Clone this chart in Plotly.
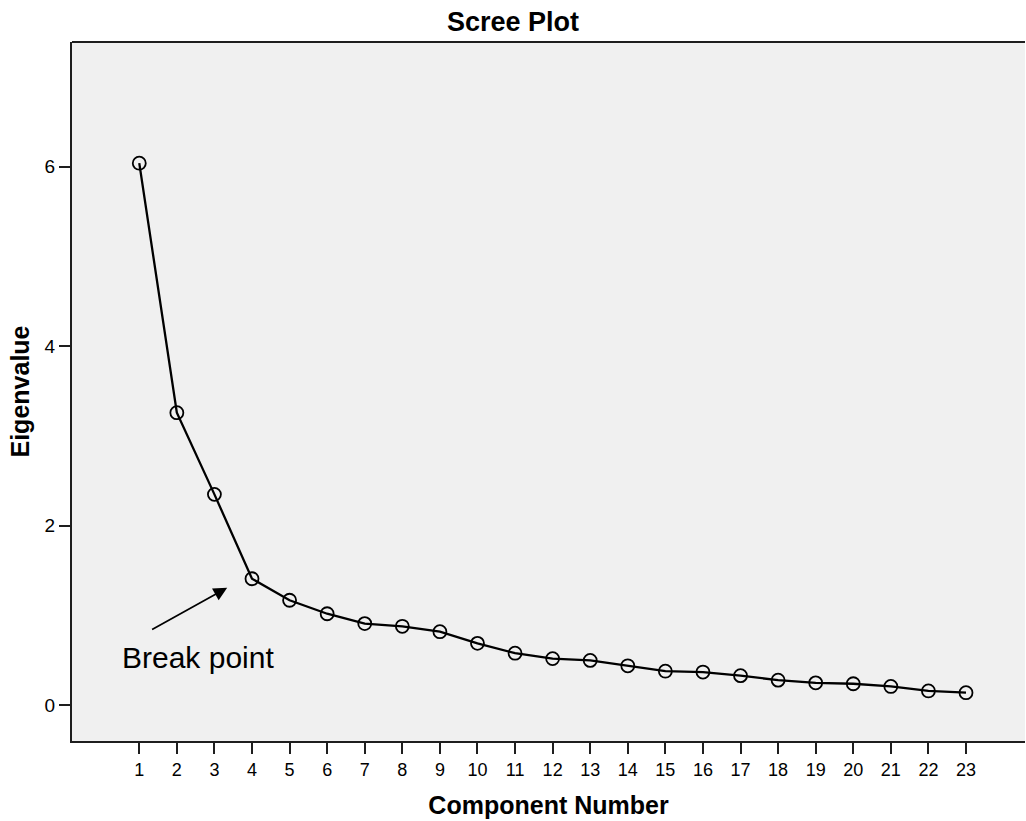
import plotly.graph_objects as go

components = list(range(1, 24))
eigenvalues = [6.04, 3.26, 2.35, 1.41, 1.17, 1.02, 0.91, 0.88, 0.82, 0.69,
               0.58, 0.52, 0.50, 0.44, 0.38, 0.37, 0.33, 0.28, 0.25, 0.24,
               0.21, 0.16, 0.14]
y_ticks = [0, 2, 4, 6]

title_text = "Scree Plot"
x_title = "Component Number"
y_title = "Eigenvalue"
note_text = "Break point"
arrow_head = (3.34, 1.31)
note_pos = (2.56, 0.53)

LINE = "#1e1e1e"
FONT = "Liberation Sans, Arial, sans-serif"

fig = go.Figure()
fig.add_trace(go.Scatter(
    x=components, y=eigenvalues, mode="lines+markers",
    line=dict(color="black", width=2.3),
    marker=dict(symbol="circle-open", size=13, color="black", line=dict(width=1.8)),
    showlegend=False, cliponaxis=False,
))

fig.add_annotation(x=arrow_head[0], y=arrow_head[1], xref="x", yref="y",
                   ax=-76.6, ay=42.7, axref="pixel", ayref="pixel",
                   text="", showarrow=True, arrowhead=2, arrowsize=1.6,
                   arrowwidth=1.7, arrowcolor="black")
fig.add_annotation(x=note_pos[0], y=note_pos[1], xref="x", yref="y",
                   text=note_text, showarrow=False,
                   font=dict(family=FONT, size=30, color="black"))

# top frame line (no right frame in the reference)
fig.add_shape(type="line", xref="paper", yref="paper", x0=0, x1=1, y0=1, y1=1,
              line=dict(color=LINE, width=2))

fig.update_layout(
    width=1026, height=821,
    margin=dict(l=72, r=1, t=42, b=80, pad=0),
    paper_bgcolor="white", plot_bgcolor="#f0f0f0",
    font=dict(family=FONT, color="black"),
    dragmode=False,
    title=dict(text="<b>" + title_text + "</b>", x=513 / 1026, xref="container",
               xanchor="center", y=1 - 22 / 821, yref="container", yanchor="middle",
               font=dict(family=FONT, size=27, color="black")),
)

fig.update_xaxes(
    range=[-0.79, 24.57], tickmode="array", tickvals=components,
    ticktext=[str(c) for c in components],
    showgrid=False, zeroline=False,
    showline=True, linecolor=LINE, linewidth=2, mirror=False,
    ticks="outside", ticklen=11, tickwidth=2, tickcolor=LINE,
    tickfont=dict(family=FONT, size=18, color="black"),
    title=dict(text="<b>" + x_title + "</b>", standoff=18,
               font=dict(family=FONT, size=25, color="black")),
)
fig.update_yaxes(
    range=[-0.398, 7.39], tickmode="array", tickvals=y_ticks,
    showgrid=False, zeroline=False,
    showline=True, linecolor=LINE, linewidth=2, mirror=False,
    ticks="outside", ticklen=11, tickwidth=2, tickcolor=LINE,
    tickfont=dict(family=FONT, size=19, color="black"),
    title=dict(text="<b>" + y_title + "</b>", standoff=8,
               font=dict(family=FONT, size=25, color="black")),
)

fig.write_html("out.html", config={"displayModeBar": False})
